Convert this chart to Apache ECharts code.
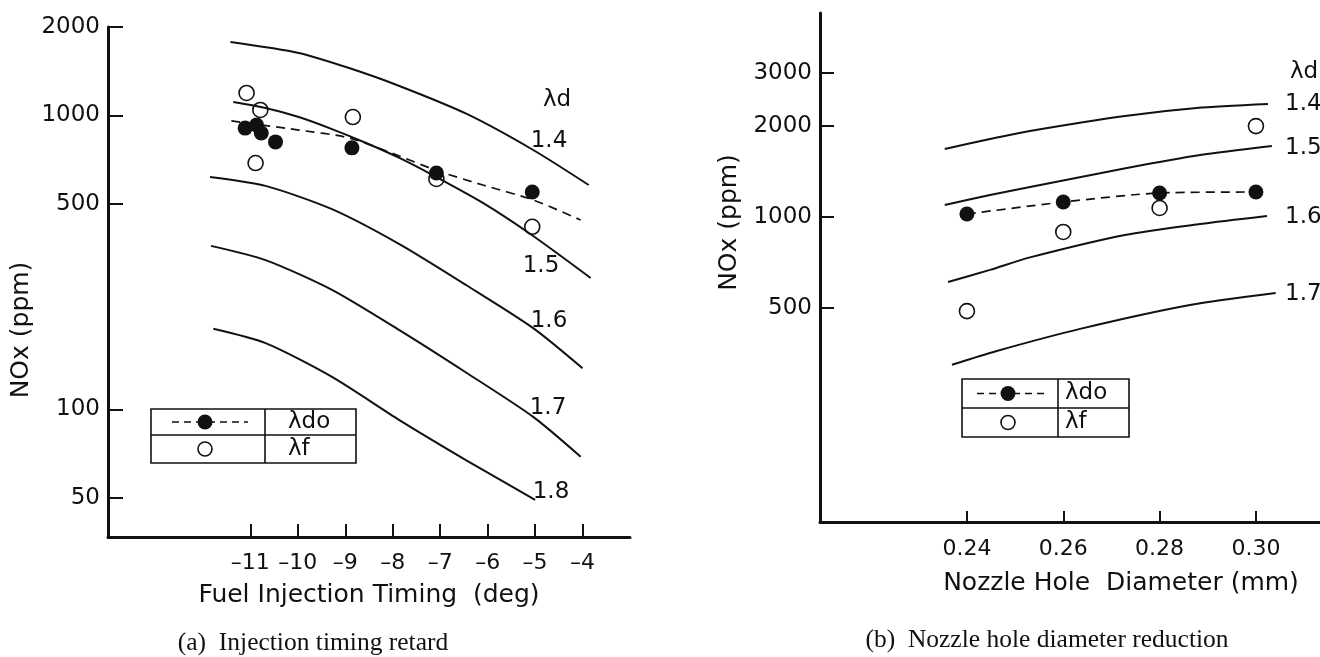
<!DOCTYPE html>
<html lang="en">
<head>
  <meta charset="UTF-8">
  <title>NOx charts</title>
  <style>
    html, body { margin: 0; padding: 0; background: #fff; }
    #chart { width: 1320px; height: 657px; }
  </style>
</head>
<body>
<div id="chart"></div>
<script src="https://cdn.jsdelivr.net/npm/echarts@6/dist/echarts.min.js"></script>
<script>
  // (a) fuel injection timing [deg] vs NOx [ppm], lambda_d curves
  const timingTicks = [-11, -10, -9, -8, -7, -6, -5, -4];
  const noxTicksA = [50, 100, 500, 1000, 2000];
  const ld14A = [[-11.42, 1778], [-9.98, 1632], [-8.92, 1450], [-7.86, 1260], [-6.44, 1012], [-5.04, 763], [-3.87, 580]];
  const ld15A = [[-11.36, 1111], [-10.68, 1060], [-9.98, 988], [-9.28, 899], [-8.56, 806], [-7.86, 717], [-7.16, 627], [-6.10, 504], [-5.04, 389], [-3.83, 280]];
  const ld16A = [[-11.85, 618], [-10.68, 576], [-9.28, 480], [-7.86, 365], [-6.44, 264], [-5.04, 189], [-4.00, 138]];
  const ld17A = [[-11.83, 360], [-10.68, 322], [-9.28, 255], [-7.86, 186], [-6.44, 133], [-5.04, 94.3], [-4.04, 69]];
  const ld18A = [[-11.78, 188], [-10.68, 168], [-9.28, 129], [-7.86, 92], [-6.44, 67], [-5.00, 49.2]];
  const ldoFitA = [[-11.40, 958], [-9.98, 892], [-8.92, 839], [-7.86, 728], [-7.08, 650], [-6.10, 580], [-5.04, 516], [-4.04, 441]];
  const ldoA = [[-11.11, 906], [-10.87, 928], [-10.77, 872], [-10.47, 813], [-8.86, 776], [-7.08, 637], [-5.06, 549]];
  const lfA = [[-11.08, 1193], [-10.79, 1044], [-10.89, 689], [-8.84, 988], [-7.08, 608], [-5.06, 418]];

  // (b) nozzle hole diameter [mm] vs NOx [ppm]
  const diamTicks = [0.24, 0.26, 0.28, 0.30];
  const noxTicksB = [500, 1000, 2000, 3000];
  const ld14B = [[0.2354, 1680], [0.2448, 1813], [0.2531, 1927], [0.2728, 2160], [0.2877, 2296], [0.3025, 2366]];
  const ld15B = [[0.2354, 1096], [0.2448, 1183], [0.2531, 1257], [0.2732, 1453], [0.2884, 1604], [0.3033, 1719]];
  const ld16B = [[0.2361, 609], [0.2448, 668], [0.2531, 735], [0.2728, 872], [0.2884, 948], [0.3023, 1008]];
  const ld17B = [[0.2369, 324], [0.2462, 360], [0.2635, 426], [0.2863, 511], [0.3041, 560]];
  const ldoB = [[0.24, 1023], [0.26, 1121], [0.28, 1201], [0.30, 1210]];
  const lfB = [[0.24, 488], [0.26, 892], [0.28, 1071], [0.30, 2000]];

  const INK = '#111';
  const SANS = '"DejaVu Sans", sans-serif';
  const SERIF = '"Liberation Serif", serif';

  const chart = echarts.init(document.getElementById('chart'));

  function axisBase() {
    return {
      axisLine: { show: true, lineStyle: { color: INK, width: 3 } },
      splitLine: { show: false }
    };
  }
  function nameStyle(pad) {
    return { color: INK, fontFamily: SANS, fontSize: 25, padding: pad };
  }

  function curve(data, xi) {
    return {
      type: 'line', xAxisIndex: xi, yAxisIndex: xi, data: data, smooth: 0.25,
      showSymbol: false, silent: true,
      lineStyle: { color: INK, width: 2 }
    };
  }
  function fitLine(data, xi) {
    return {
      type: 'line', xAxisIndex: xi, yAxisIndex: xi, data: data, smooth: 0.25,
      showSymbol: false, silent: true,
      lineStyle: { color: INK, width: 1.7, type: [9, 6] }
    };
  }
  function openPts(data, xi) {
    return {
      type: 'scatter', xAxisIndex: xi, yAxisIndex: xi, data: data, symbolSize: 15,
      itemStyle: { color: '#fff', borderColor: INK, borderWidth: 1.6, opacity: 1 }
    };
  }
  function filledPts(data, xi) {
    return {
      type: 'scatter', xAxisIndex: xi, yAxisIndex: xi, data: data, symbolSize: 15,
      itemStyle: { color: INK, opacity: 1 }
    };
  }

  function txt(x, y, s) {
    return {
      type: 'text', x: x, y: y,
      style: { text: s, fill: INK, fontFamily: SANS, fontSize: 23, align: 'center', verticalAlign: 'middle' }
    };
  }
  function leftTxt(x, y, s) {
    return {
      type: 'text', x: x, y: y,
      style: { text: s, fill: INK, fontFamily: SANS, fontSize: 23, align: 'left', verticalAlign: 'middle' }
    };
  }

  // legend table box
  function legendBox(x0, y0, w, h, colX, midY, markX, dashFrom, dashTo, textX) {
    const row1 = (y0 + midY) / 2, row2 = (midY + y0 + h) / 2;
    return [
      { type: 'rect', shape: { x: x0, y: y0, width: w, height: h }, style: { fill: 'none', stroke: INK, lineWidth: 1.6 } },
      { type: 'line', shape: { x1: x0, y1: midY, x2: x0 + w, y2: midY }, style: { stroke: INK, lineWidth: 1.6 } },
      { type: 'line', shape: { x1: colX, y1: y0, x2: colX, y2: y0 + h }, style: { stroke: INK, lineWidth: 1.6 } },
      { type: 'line', shape: { x1: dashFrom, y1: row1, x2: dashTo, y2: row1 }, style: { stroke: INK, lineWidth: 1.6, lineDash: [7, 5] } },
      { type: 'circle', shape: { cx: markX, cy: row1, r: 7.5 }, style: { fill: INK } },
      { type: 'circle', shape: { cx: markX, cy: row2, r: 7 }, style: { fill: '#fff', stroke: INK, lineWidth: 1.6 } },
      leftTxt(textX, row1, 'λdo'),
      leftTxt(textX, row2, 'λf')
    ];
  }

  const option = {
    animation: false,
    backgroundColor: '#fff',
    grid: [
      { left: 108, top: 27, width: 522, height: 510, containLabel: false, outerBoundsMode: 'none' },
      { left: 820, top: 13, width: 500, height: 509, containLabel: false, outerBoundsMode: 'none' }
    ],
    xAxis: [
      Object.assign(axisBase(), {
        type: 'value', gridIndex: 0, min: -14, max: -3, interval: 1,
        name: 'Fuel Injection Timing  (deg)', nameLocation: 'middle', nameGap: 46,
        nameTextStyle: nameStyle(0),
        axisTick: { show: true, inside: true, length: 13, customValues: timingTicks, lineStyle: { color: INK, width: 2 } },
        axisLabel: {
          customValues: timingTicks, margin: 15, color: INK, fontFamily: SANS, fontSize: 22,
          formatter: v => String(v).replace('-', '–')
        }
      }),
      Object.assign(axisBase(), {
        type: 'value', gridIndex: 1, min: 0.2095, max: 0.3133,
        name: 'Nozzle Hole  Diameter (mm)', nameLocation: 'middle', nameGap: 49,
        nameTextStyle: nameStyle([0, 0, 0, 102]),
        axisTick: { show: true, inside: true, length: 11, customValues: diamTicks, lineStyle: { color: INK, width: 2 } },
        axisLabel: {
          customValues: diamTicks, margin: 16, color: INK, fontFamily: SANS, fontSize: 22,
          formatter: v => Number(v).toFixed(2)
        }
      })
    ],
    yAxis: [
      Object.assign(axisBase(), {
        type: 'log', gridIndex: 0, logBase: 10, min: 36.8, max: 2000,
        name: 'NOx (ppm)', nameLocation: 'middle', nameGap: 74,
        nameTextStyle: nameStyle([0, 96, 0, 0]),
        axisTick: { show: true, inside: true, length: 15, customValues: noxTicksA, lineStyle: { color: INK, width: 2 } },
        axisLabel: { customValues: noxTicksA, margin: 8, color: INK, fontFamily: SANS, fontSize: 23, formatter: v => String(v) }
      }),
      Object.assign(axisBase(), {
        type: 'log', gridIndex: 1, logBase: 10, min: 97.7, max: 4738,
        name: 'NOx (ppm)', nameLocation: 'middle', nameGap: 78,
        nameTextStyle: nameStyle([0, 0, 0, 90]),
        axisTick: { show: true, inside: true, length: 14, customValues: noxTicksB, lineStyle: { color: INK, width: 2 } },
        axisLabel: { customValues: noxTicksB, margin: 8, color: INK, fontFamily: SANS, fontSize: 23, formatter: v => String(v) }
      })
    ],
    series: [
      curve(ld14A, 0), curve(ld15A, 0), curve(ld16A, 0), curve(ld17A, 0), curve(ld18A, 0),
      fitLine(ldoFitA, 0), openPts(lfA, 0), filledPts(ldoA, 0),
      curve(ld14B, 1), curve(ld15B, 1), curve(ld16B, 1), curve(ld17B, 1),
      fitLine(ldoB, 1), openPts(lfB, 1), filledPts(ldoB, 1)
    ],
    graphic: [].concat(
      [
        txt(557, 100, 'λd'), txt(549, 141, '1.4'), txt(541, 266, '1.5'),
        txt(549, 321, '1.6'), txt(548, 408, '1.7'), txt(551, 492, '1.8'),
        leftTxt(1290, 72, 'λd'), leftTxt(1285, 104, '1.4'), leftTxt(1285, 148, '1.5'),
        leftTxt(1285, 217, '1.6'), leftTxt(1285, 294, '1.7'),
        { type: 'text', x: 313, y: 643, style: { text: '(a)  Injection timing retard', fill: INK, fontFamily: SERIF, fontSize: 25.5, align: 'center', verticalAlign: 'middle' } },
        { type: 'text', x: 1047, y: 640, style: { text: '(b)  Nozzle hole diameter reduction', fill: INK, fontFamily: SERIF, fontSize: 25.5, align: 'center', verticalAlign: 'middle' } }
      ],
      legendBox(151, 409, 205, 54, 265, 435, 205, 172, 248, 288),
      legendBox(962, 379, 167, 58, 1058, 408, 1008, 977, 1047, 1065)
    )
  };

  chart.setOption(option);
</script>
</body>
</html>
